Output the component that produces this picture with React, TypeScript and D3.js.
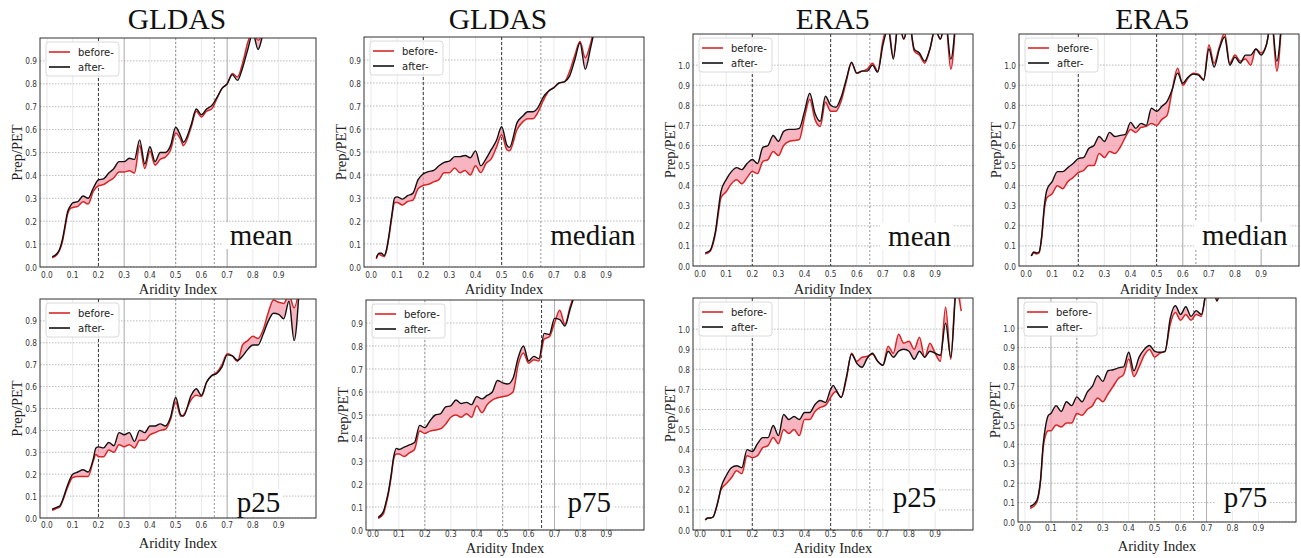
import * as d3 from 'd3';

const X_TICKS = [0, 0.1, 0.2, 0.3, 0.4, 0.5, 0.6, 0.7, 0.8, 0.9];
const Y_TICKS_GLDAS = [0, 0.1, 0.2, 0.3, 0.4, 0.5, 0.6, 0.7, 0.8, 0.9];
const Y_TICKS_ERA5 = [0, 0.1, 0.2, 0.3, 0.4, 0.5, 0.6, 0.7, 0.8, 0.9, 1.0];
const LEGEND = ['before-', 'after-'];

// GLDAS mean
const GM_X = [0.02, 0.03, 0.04, 0.05, 0.06, 0.07, 0.08, 0.09, 0.10, 0.12, 0.14, 0.16, 0.18, 0.20, 0.22, 0.24, 0.26, 0.28, 0.30, 0.32, 0.34, 0.36, 0.38, 0.40, 0.42, 0.44, 0.46, 0.48, 0.50, 0.52, 0.53, 0.56, 0.58, 0.60, 0.62, 0.64, 0.66, 0.68, 0.70, 0.72, 0.74, 0.76, 0.78, 0.80, 0.82, 0.84, 0.86, 0.88];
const GM_AFTER = [0.045, 0.05, 0.06, 0.08, 0.12, 0.18, 0.24, 0.265, 0.28, 0.285, 0.31, 0.30, 0.345, 0.38, 0.385, 0.41, 0.43, 0.46, 0.46, 0.475, 0.47, 0.555, 0.45, 0.525, 0.46, 0.50, 0.50, 0.53, 0.61, 0.57, 0.545, 0.62, 0.69, 0.665, 0.69, 0.705, 0.74, 0.78, 0.80, 0.84, 0.815, 0.87, 0.95, 1.02, 0.95, 1.02, 1.08, 1.15];
const GM_BEFORE = [0.04, 0.045, 0.055, 0.075, 0.11, 0.17, 0.23, 0.255, 0.26, 0.265, 0.285, 0.275, 0.33, 0.355, 0.36, 0.375, 0.39, 0.415, 0.415, 0.42, 0.41, 0.53, 0.43, 0.505, 0.445, 0.47, 0.48, 0.51, 0.585, 0.555, 0.53, 0.61, 0.68, 0.655, 0.68, 0.69, 0.735, 0.78, 0.80, 0.845, 0.83, 0.89, 0.98, 1.03, 0.99, 1.02, 1.08, 1.15];

// GLDAS median
const GD_X = [0.02, 0.03, 0.04, 0.05, 0.06, 0.07, 0.08, 0.09, 0.10, 0.12, 0.14, 0.16, 0.18, 0.20, 0.22, 0.24, 0.26, 0.28, 0.30, 0.32, 0.34, 0.36, 0.38, 0.40, 0.42, 0.44, 0.46, 0.48, 0.50, 0.52, 0.53, 0.56, 0.58, 0.60, 0.62, 0.64, 0.66, 0.68, 0.70, 0.72, 0.74, 0.76, 0.78, 0.80, 0.82, 0.84, 0.86, 0.88];
const GD_AFTER = [0.04, 0.06, 0.06, 0.05, 0.08, 0.15, 0.23, 0.30, 0.305, 0.295, 0.31, 0.32, 0.38, 0.405, 0.415, 0.42, 0.44, 0.455, 0.46, 0.48, 0.48, 0.485, 0.475, 0.505, 0.44, 0.47, 0.51, 0.55, 0.61, 0.53, 0.52, 0.63, 0.655, 0.675, 0.675, 0.695, 0.74, 0.765, 0.78, 0.80, 0.805, 0.83, 0.90, 0.975, 0.86, 0.95, 1.05, 1.12];
const GD_BEFORE = [0.035, 0.055, 0.05, 0.045, 0.075, 0.14, 0.22, 0.28, 0.28, 0.27, 0.285, 0.29, 0.34, 0.355, 0.36, 0.37, 0.38, 0.41, 0.41, 0.43, 0.41, 0.42, 0.40, 0.44, 0.41, 0.45, 0.47, 0.52, 0.575, 0.51, 0.505, 0.60, 0.63, 0.645, 0.645, 0.675, 0.725, 0.765, 0.78, 0.80, 0.805, 0.85, 0.92, 0.98, 0.91, 0.97, 1.06, 1.12];

// ERA5 mean
const EM_X = [0.02, 0.03, 0.04, 0.05, 0.06, 0.07, 0.08, 0.10, 0.12, 0.14, 0.16, 0.18, 0.20, 0.22, 0.24, 0.26, 0.28, 0.30, 0.32, 0.34, 0.36, 0.38, 0.40, 0.42, 0.44, 0.46, 0.48, 0.50, 0.52, 0.54, 0.56, 0.58, 0.60, 0.62, 0.64, 0.66, 0.68, 0.70, 0.72, 0.74, 0.76, 0.78, 0.80, 0.82, 0.84, 0.86, 0.88, 0.90, 0.92, 0.94, 0.96, 0.98];
const EM_AFTER = [0.065, 0.07, 0.08, 0.12, 0.18, 0.28, 0.37, 0.43, 0.47, 0.49, 0.48, 0.51, 0.53, 0.51, 0.59, 0.60, 0.65, 0.62, 0.67, 0.68, 0.68, 0.685, 0.77, 0.86, 0.76, 0.72, 0.845, 0.80, 0.79, 0.84, 0.93, 1.015, 0.96, 0.97, 0.97, 1.0, 0.965, 1.1, 1.18, 1.03, 1.22, 1.13, 1.22, 1.08, 1.06, 1.02, 1.08, 1.18, 1.13, 1.22, 1.03, 1.25];
const EM_BEFORE = [0.06, 0.065, 0.075, 0.11, 0.17, 0.26, 0.34, 0.37, 0.41, 0.43, 0.41, 0.44, 0.47, 0.46, 0.52, 0.53, 0.57, 0.55, 0.60, 0.62, 0.625, 0.63, 0.74, 0.83, 0.73, 0.695, 0.815, 0.77, 0.77, 0.82, 0.92, 1.01, 0.96, 0.97, 0.98, 1.01, 0.97, 1.12, 1.2, 1.04, 1.22, 1.13, 1.22, 1.07, 1.05, 1.01, 1.08, 1.18, 1.13, 1.22, 0.98, 1.25];

// ERA5 median
const ED_X = [0.02, 0.03, 0.04, 0.05, 0.06, 0.07, 0.08, 0.10, 0.12, 0.14, 0.16, 0.18, 0.20, 0.22, 0.24, 0.26, 0.28, 0.30, 0.32, 0.34, 0.36, 0.38, 0.40, 0.42, 0.44, 0.46, 0.48, 0.50, 0.52, 0.54, 0.56, 0.58, 0.60, 0.62, 0.64, 0.66, 0.68, 0.70, 0.72, 0.74, 0.76, 0.78, 0.80, 0.82, 0.84, 0.86, 0.88, 0.90, 0.92, 0.94, 0.96, 0.98];
const ED_AFTER = [0.05, 0.07, 0.065, 0.07, 0.15, 0.30, 0.38, 0.42, 0.47, 0.47, 0.49, 0.51, 0.535, 0.54, 0.585, 0.60, 0.645, 0.62, 0.665, 0.645, 0.65, 0.655, 0.715, 0.685, 0.71, 0.70, 0.785, 0.77, 0.795, 0.82, 0.88, 0.96, 0.91, 0.94, 0.955, 0.95, 0.925, 1.08, 0.99, 1.08, 1.14, 1.0, 1.04, 1.01, 1.05, 1.05, 1.08, 1.05, 1.1, 1.22, 1.02, 1.25];
const ED_BEFORE = [0.05, 0.065, 0.06, 0.065, 0.14, 0.28, 0.34, 0.36, 0.40, 0.385, 0.42, 0.44, 0.465, 0.475, 0.50, 0.50, 0.56, 0.54, 0.57, 0.56, 0.59, 0.64, 0.68, 0.665, 0.69, 0.695, 0.71, 0.70, 0.73, 0.75, 0.88, 0.985, 0.90, 0.935, 0.96, 0.955, 0.93, 1.1, 1.01, 1.09, 1.16, 1.01, 1.05, 1.02, 1.03, 1.0, 1.08, 1.06, 1.1, 1.22, 0.97, 1.25];

// GLDAS p25
const G25_X = [0.02, 0.04, 0.05, 0.06, 0.08, 0.10, 0.12, 0.14, 0.16, 0.18, 0.19, 0.20, 0.22, 0.24, 0.26, 0.28, 0.30, 0.32, 0.34, 0.36, 0.38, 0.40, 0.42, 0.44, 0.46, 0.48, 0.50, 0.52, 0.53, 0.56, 0.58, 0.60, 0.62, 0.64, 0.66, 0.68, 0.70, 0.72, 0.74, 0.76, 0.78, 0.80, 0.82, 0.84, 0.86, 0.88, 0.90, 0.92, 0.94, 0.96, 0.98];
const G25_AFTER = [0.04, 0.05, 0.055, 0.08, 0.15, 0.20, 0.21, 0.22, 0.21, 0.27, 0.32, 0.325, 0.32, 0.345, 0.33, 0.39, 0.38, 0.39, 0.35, 0.40, 0.39, 0.42, 0.42, 0.43, 0.42, 0.46, 0.55, 0.47, 0.465, 0.56, 0.59, 0.56, 0.62, 0.65, 0.66, 0.69, 0.745, 0.74, 0.72, 0.74, 0.77, 0.79, 0.79, 0.84, 0.90, 0.935, 0.93, 0.91, 0.99, 0.81, 1.05];
const G25_BEFORE = [0.035, 0.045, 0.05, 0.075, 0.14, 0.185, 0.19, 0.19, 0.19, 0.26, 0.29, 0.28, 0.28, 0.31, 0.30, 0.335, 0.325, 0.335, 0.32, 0.355, 0.355, 0.38, 0.39, 0.40, 0.405, 0.45, 0.53, 0.465, 0.47, 0.54, 0.56, 0.555, 0.62, 0.65, 0.665, 0.70, 0.75, 0.74, 0.715, 0.79, 0.81, 0.83, 0.82, 0.86, 0.94, 0.995, 0.985, 0.98, 1.02, 0.96, 1.05];

// GLDAS p75
const G75_X = [0.02, 0.04, 0.05, 0.06, 0.07, 0.08, 0.09, 0.10, 0.12, 0.14, 0.16, 0.18, 0.20, 0.22, 0.24, 0.26, 0.28, 0.30, 0.32, 0.34, 0.36, 0.38, 0.40, 0.42, 0.44, 0.46, 0.48, 0.50, 0.52, 0.54, 0.56, 0.58, 0.60, 0.62, 0.64, 0.66, 0.68, 0.70, 0.72, 0.74, 0.76, 0.78, 0.80];
const G75_AFTER = [0.055, 0.08, 0.12, 0.17, 0.24, 0.32, 0.355, 0.35, 0.36, 0.37, 0.38, 0.455, 0.445, 0.475, 0.50, 0.505, 0.535, 0.54, 0.565, 0.55, 0.555, 0.545, 0.58, 0.57, 0.585, 0.60, 0.65, 0.64, 0.635, 0.66, 0.75, 0.80, 0.735, 0.755, 0.745, 0.855, 0.85, 0.92, 0.915, 0.887, 0.96, 1.03, 1.1];
const G75_BEFORE = [0.05, 0.07, 0.11, 0.16, 0.23, 0.31, 0.33, 0.33, 0.32, 0.335, 0.35, 0.43, 0.42, 0.43, 0.435, 0.44, 0.46, 0.49, 0.50, 0.49, 0.505, 0.49, 0.54, 0.51, 0.545, 0.565, 0.575, 0.58, 0.585, 0.60, 0.72, 0.77, 0.725, 0.74, 0.735, 0.83, 0.84, 0.90, 0.955, 0.895, 0.97, 1.04, 1.1];

// ERA5 p25
const E25_X = [0.02, 0.03, 0.04, 0.05, 0.06, 0.07, 0.08, 0.10, 0.12, 0.14, 0.16, 0.18, 0.20, 0.22, 0.24, 0.26, 0.28, 0.30, 0.32, 0.34, 0.36, 0.38, 0.40, 0.42, 0.44, 0.46, 0.48, 0.50, 0.51, 0.52, 0.54, 0.56, 0.58, 0.60, 0.62, 0.64, 0.66, 0.68, 0.70, 0.72, 0.74, 0.76, 0.78, 0.80, 0.82, 0.84, 0.86, 0.88, 0.90, 0.92, 0.94, 0.96, 0.98, 1.00];
const E25_AFTER = [0.05, 0.06, 0.06, 0.065, 0.10, 0.15, 0.21, 0.27, 0.31, 0.32, 0.31, 0.40, 0.39, 0.43, 0.46, 0.46, 0.52, 0.47, 0.575, 0.55, 0.565, 0.55, 0.585, 0.585, 0.625, 0.645, 0.635, 0.70, 0.72, 0.70, 0.66, 0.76, 0.875, 0.83, 0.81, 0.855, 0.88, 0.84, 0.82, 0.89, 0.86, 0.89, 0.90, 0.89, 0.85, 0.89, 0.86, 0.89, 0.88, 0.87, 1.03, 0.86, 1.2, 1.3];
const E25_BEFORE = [0.05, 0.06, 0.06, 0.065, 0.10, 0.15, 0.20, 0.23, 0.26, 0.295, 0.28, 0.37, 0.36, 0.37, 0.41, 0.42, 0.46, 0.43, 0.50, 0.48, 0.50, 0.47, 0.55, 0.55, 0.59, 0.61, 0.62, 0.66, 0.68, 0.69, 0.66, 0.75, 0.88, 0.84, 0.86, 0.865, 0.875, 0.84, 0.82, 0.915, 0.88, 0.975, 0.93, 0.94, 0.90, 0.96, 0.86, 0.93, 0.88, 0.84, 1.11, 0.85, 1.2, 1.09];

// ERA5 p75
const E75_X = [0.02, 0.04, 0.05, 0.06, 0.07, 0.08, 0.09, 0.10, 0.12, 0.14, 0.16, 0.18, 0.20, 0.22, 0.24, 0.26, 0.28, 0.30, 0.32, 0.34, 0.36, 0.38, 0.40, 0.42, 0.44, 0.46, 0.48, 0.50, 0.52, 0.54, 0.56, 0.58, 0.60, 0.62, 0.64, 0.66, 0.68, 0.70, 0.72, 0.74, 0.76];
const E75_AFTER = [0.08, 0.10, 0.13, 0.22, 0.40, 0.50, 0.55, 0.56, 0.60, 0.57, 0.62, 0.60, 0.645, 0.62, 0.67, 0.70, 0.755, 0.725, 0.78, 0.785, 0.795, 0.80, 0.875, 0.78, 0.85, 0.89, 0.91, 0.88, 0.875, 0.88, 1.05, 1.115, 1.07, 1.11, 1.06, 1.09, 1.07, 1.2, 1.25, 1.14, 1.3];
const E75_BEFORE = [0.07, 0.09, 0.12, 0.21, 0.38, 0.45, 0.47, 0.47, 0.50, 0.49, 0.51, 0.51, 0.56, 0.55, 0.58, 0.60, 0.64, 0.62, 0.66, 0.70, 0.74, 0.76, 0.84, 0.75, 0.80, 0.86, 0.89, 0.85, 0.87, 0.88, 1.02, 1.08, 1.04, 1.07, 1.04, 1.07, 1.06, 1.2, 1.25, 1.14, 1.3];

interface PanelSpec {
  id: string;
  title?: string;
  titleAt?: number;
  stat: string;
  xs: number[];
  before: number[];
  after: number[];
  yTicks: number[];
  yMax: number;
  box: [number, number, number, number]; // left, top, right, bottom (px)
  tickDy: number;
  xlabY: number;
  statAt: [number, number]; // data x, px baseline
  dark: number[];
  greyDash: number[];
  greySolid: number[];
}

const PANELS: PanelSpec[] = [
  { id: 'p1', title: 'GLDAS', titleAt: 0.505, stat: 'mean', xs: GM_X, before: GM_BEFORE, after: GM_AFTER, yTicks: Y_TICKS_GLDAS, yMax: 1.0,
    box: [40, 38, 316, 267], tickDy: 10.5, xlabY: 294, statAt: [0.71, 245], dark: [0.2], greyDash: [0.5, 0.65], greySolid: [0.3, 0.7] },
  { id: 'p2', title: 'GLDAS', titleAt: 0.486, stat: 'median', xs: GD_X, before: GD_BEFORE, after: GD_AFTER, yTicks: Y_TICKS_GLDAS, yMax: 1.0,
    box: [364, 37, 644, 267], tickDy: 10.5, xlabY: 294, statAt: [0.686, 245], dark: [0.2, 0.5], greyDash: [0.65], greySolid: [] },
  { id: 'p3', title: 'ERA5', titleAt: 0.508, stat: 'mean', xs: EM_X, before: EM_BEFORE, after: EM_AFTER, yTicks: Y_TICKS_ERA5, yMax: 1.155,
    box: [693, 34, 973, 266], tickDy: 10.5, xlabY: 294, statAt: [0.72, 246], dark: [0.2, 0.5], greyDash: [0.65], greySolid: [] },
  { id: 'p4', title: 'ERA5', titleAt: 0.483, stat: 'median', xs: ED_X, before: ED_BEFORE, after: ED_AFTER, yTicks: Y_TICKS_ERA5, yMax: 1.155,
    box: [1019, 34, 1299, 266], tickDy: 10.5, xlabY: 294, statAt: [0.674, 245], dark: [0.2, 0.5], greyDash: [0.65], greySolid: [0.6, 0.9] },
  { id: 'p5', stat: 'p25', xs: G25_X, before: G25_BEFORE, after: G25_AFTER, yTicks: Y_TICKS_GLDAS, yMax: 1.0,
    box: [40, 299, 316, 518], tickDy: 10, xlabY: 548, statAt: [0.737, 512], dark: [0.2], greyDash: [0.5, 0.65], greySolid: [0.3, 0.7] },
  { id: 'p6', stat: 'p75', xs: G75_X, before: G75_BEFORE, after: G75_AFTER, yTicks: Y_TICKS_GLDAS, yMax: 1.0,
    box: [366, 300, 644, 530], tickDy: 6.5, xlabY: 553, statAt: [0.75, 512], dark: [0.65], greyDash: [0.2, 0.5], greySolid: [0.7] },
  { id: 'p7', stat: 'p25', xs: E25_X, before: E25_BEFORE, after: E25_AFTER, yTicks: Y_TICKS_ERA5, yMax: 1.155,
    box: [693, 298, 973, 530], tickDy: 6.5, xlabY: 553, statAt: [0.738, 507], dark: [0.2, 0.5], greyDash: [0.65], greySolid: [] },
  { id: 'p8', stat: 'p75', xs: E75_X, before: E75_BEFORE, after: E75_AFTER, yTicks: Y_TICKS_ERA5, yMax: 1.155,
    box: [1018, 298, 1296, 522], tickDy: 9, xlabY: 551, statAt: [0.766, 507], dark: [], greyDash: [0.2, 0.5, 0.65], greySolid: [0.1, 0.7] },
];

const RED = '#d62728';
const PINK = '#f5a3b3';
const SANS = '"DejaVu Sans", sans-serif';
const SERIF = '"Liberation Serif", "Times New Roman", serif';

function Panel({ p }: { p: PanelSpec }) {
  const [left, top, right, bottom] = p.box;
  const x = d3.scaleLinear().domain([-0.027, 1.045]).range([left, right]);
  const y = d3.scaleLinear().domain([0, p.yMax]).range([bottom, top]);

  const line = (vals: number[]) =>
    d3.line<number>()
      .x((_, i) => x(p.xs[i]))
      .y(d => y(d))
      .curve(d3.curveMonotoneX)(vals) || '';

  const area = d3.area<number>()
    .x((_, i) => x(p.xs[i]))
    .y0(d => y(d))
    .y1((_, i) => y(p.after[i]))
    .curve(d3.curveMonotoneX)(p.before) || '';

  const cx = (left + right) / 2;
  const cy = (top + bottom) / 2;
  const statX = x(p.statAt[0]);
  const statW = p.stat.length === 3 ? 44 : p.stat.length === 4 ? 64 : 86;
  const lx = left + 6;
  const ly = top + 4;

  return (
    <g>
      <defs>
        <clipPath id={`clip-${p.id}`}>
          <rect x={left} y={top} width={right - left} height={bottom - top} />
        </clipPath>
      </defs>

      {X_TICKS.map(t => (
        <line key={`vx${t}`} x1={x(t)} x2={x(t)} y1={top} y2={bottom} stroke="#e3e3e3" strokeWidth={0.8} />
      ))}
      {p.yTicks.map(t => (
        <line key={`hy${t}`} x1={left} x2={right} y1={y(t)} y2={y(t)} stroke="#a8a8a8" strokeWidth={0.8} strokeDasharray="1.5,1.5" />
      ))}
      {p.greySolid.map(t => (
        <line key={`gs${t}`} x1={x(t)} x2={x(t)} y1={top} y2={bottom} stroke="#b0b0b0" strokeWidth={1} />
      ))}
      {p.greyDash.map(t => (
        <line key={`gd${t}`} x1={x(t)} x2={x(t)} y1={top} y2={bottom} stroke="#8a8a8a" strokeWidth={0.9} strokeDasharray="2,2" />
      ))}
      {p.dark.map(t => (
        <line key={`dk${t}`} x1={x(t)} x2={x(t)} y1={top} y2={bottom} stroke="#222" strokeWidth={0.9} strokeDasharray="3,2" />
      ))}

      <g clipPath={`url(#clip-${p.id})`}>
        <path d={area} fill={PINK} fillOpacity={0.8} stroke="none" />
        <path d={line(p.before)} fill="none" stroke={RED} strokeWidth={1.5} />
        <path d={line(p.after)} fill="none" stroke="#111" strokeWidth={1.4} />
      </g>

      <rect x={statX - 8} y={p.statAt[1] - 23} width={statW + 10} height={27} fill="#fff" />
      <text x={statX} y={p.statAt[1]} fontFamily={SERIF} fontSize={29} fill="#111">{p.stat}</text>

      <rect x={lx} y={ly} width={73} height={34} rx={3} fill="#fff" fillOpacity={0.9} stroke="#d0d0d0" strokeWidth={0.8} />
      {LEGEND.map((name, i) => (
        <g key={name}>
          <line x1={lx + 3} x2={lx + 24} y1={ly + 10 + i * 15} y2={ly + 10 + i * 15} stroke={i === 0 ? RED : '#111'} strokeWidth={1.6} />
          <text x={lx + 32} y={ly + 13.5 + i * 15} fontFamily={SANS} fontSize={10} fill="#222">{name}</text>
        </g>
      ))}

      <rect x={left} y={top} width={right - left} height={bottom - top} fill="none" stroke="#333" strokeWidth={1} />

      {X_TICKS.map(t => (
        <text key={`xt${t}`} transform={`translate(${x(t)},${bottom + p.tickDy}) scale(0.78,1)`} textAnchor="middle"
          fontFamily={SANS} fontSize={9.5} fill="#333">
          {t.toFixed(1)}
        </text>
      ))}
      {p.yTicks.map(t => (
        <text key={`yt${t}`} transform={`translate(${left - 3},${y(t) + 3.5}) scale(0.78,1)`} textAnchor="end"
          fontFamily={SANS} fontSize={9.5} fill="#333">
          {t.toFixed(1)}
        </text>
      ))}

      <text x={cx} y={p.xlabY} textAnchor="middle" fontFamily={SERIF} fontSize={14.5} fill="#222">Aridity Index</text>
      <text
        transform={`translate(${left - 23},${cy}) rotate(-90)`}
        textAnchor="middle"
        dominantBaseline="central"
        fontFamily={SERIF}
        fontSize={14.5}
        fill="#222"
      >
        Prep/PET
      </text>
      {p.title && (
        <text x={x(p.titleAt ?? 0.5)} y={29} textAnchor="middle" fontFamily={SERIF} fontSize={29.5} fill="#111">{p.title}</text>
      )}
    </g>
  );
}

export default function App() {
  return (
    <svg
      width={1301}
      height={558}
      style={{ position: 'absolute', left: 0, top: 0, background: '#fff' }}
    >
      <rect width={1301} height={558} fill="#fff" />
      {PANELS.map(p => <Panel key={p.id} p={p} />)}
    </svg>
  );
}
